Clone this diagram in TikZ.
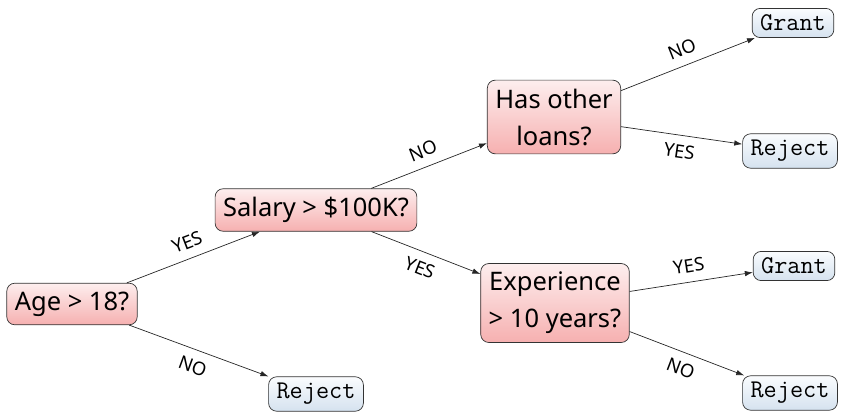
\documentclass[tikz,border=0pt]{standalone}
\usepackage{fontspec}
\setmainfont{Noto Sans}
\usetikzlibrary{arrows.meta,shadings}
\definecolor{qtop}{HTML}{FDEEEE}
\definecolor{qbot}{HTML}{F6B0B0}
\definecolor{ltop}{HTML}{FAFCFE}
\definecolor{lbot}{HTML}{D5E2EF}
\tikzset{
  question/.style={draw=black!80, line width=0.7pt, rounded corners=8pt,
    top color=qtop, bottom color=qbot, align=center,
    font=\fontsize{25.5}{37}\selectfont, inner xsep=8pt, inner ysep=8.5pt},
  leaf/.style={draw=black!80, line width=0.7pt, rounded corners=8pt,
    top color=ltop, bottom color=lbot,
    font=\ttfamily\fontsize{25.5}{28}\selectfont, inner xsep=8pt, inner ysep=6.5pt},
  link/.style={draw=black!85, line width=0.7pt, -{Latex[length=8pt,width=5.5pt]}},
  answer/.style={sloped, font=\fontsize{18.5}{21}\selectfont, inner sep=3pt, pos=0.5},
  up/.style={answer, above=6pt},
  down/.style={answer, below=6pt}
}
\begin{document}
\begin{tikzpicture}[x=1pt,y=-1pt]
\useasboundingbox (0,0) rectangle (842,417);
% decision nodes
\node[question] (age) at (72,304) {Age > 18?};
\node[question] (sal) at (316,210) {Salary > \$100K?};
\node[question] (loan) at (554,117) {Has other\\loans?};
\node[question] (exp) at (555,303) {Experience\\> 10 years?};
% outcomes
\node[leaf] (g1) at (793,23) {Grant};
\node[leaf] (r1) at (790,151) {Reject};
\node[leaf] (g2) at (794,266) {Grant};
\node[leaf] (r2) at (790,393) {Reject};
\node[leaf] (r0) at (316,394) {Reject};
% branches
\draw[link] (age) -- node[up] {YES} (sal);
\draw[link] (age) -- node[down] {NO} (r0);
\draw[link] (sal) -- node[up] {NO} (loan);
\draw[link] (sal) -- node[down] {YES} (exp);
\draw[link] (loan) -- node[up] {NO} (g1);
\draw[link] (loan) -- node[down] {YES} (r1);
\draw[link] (exp) -- node[up] {YES} (g2);
\draw[link] (exp) -- node[down] {NO} (r2);
\end{tikzpicture}
\end{document}
